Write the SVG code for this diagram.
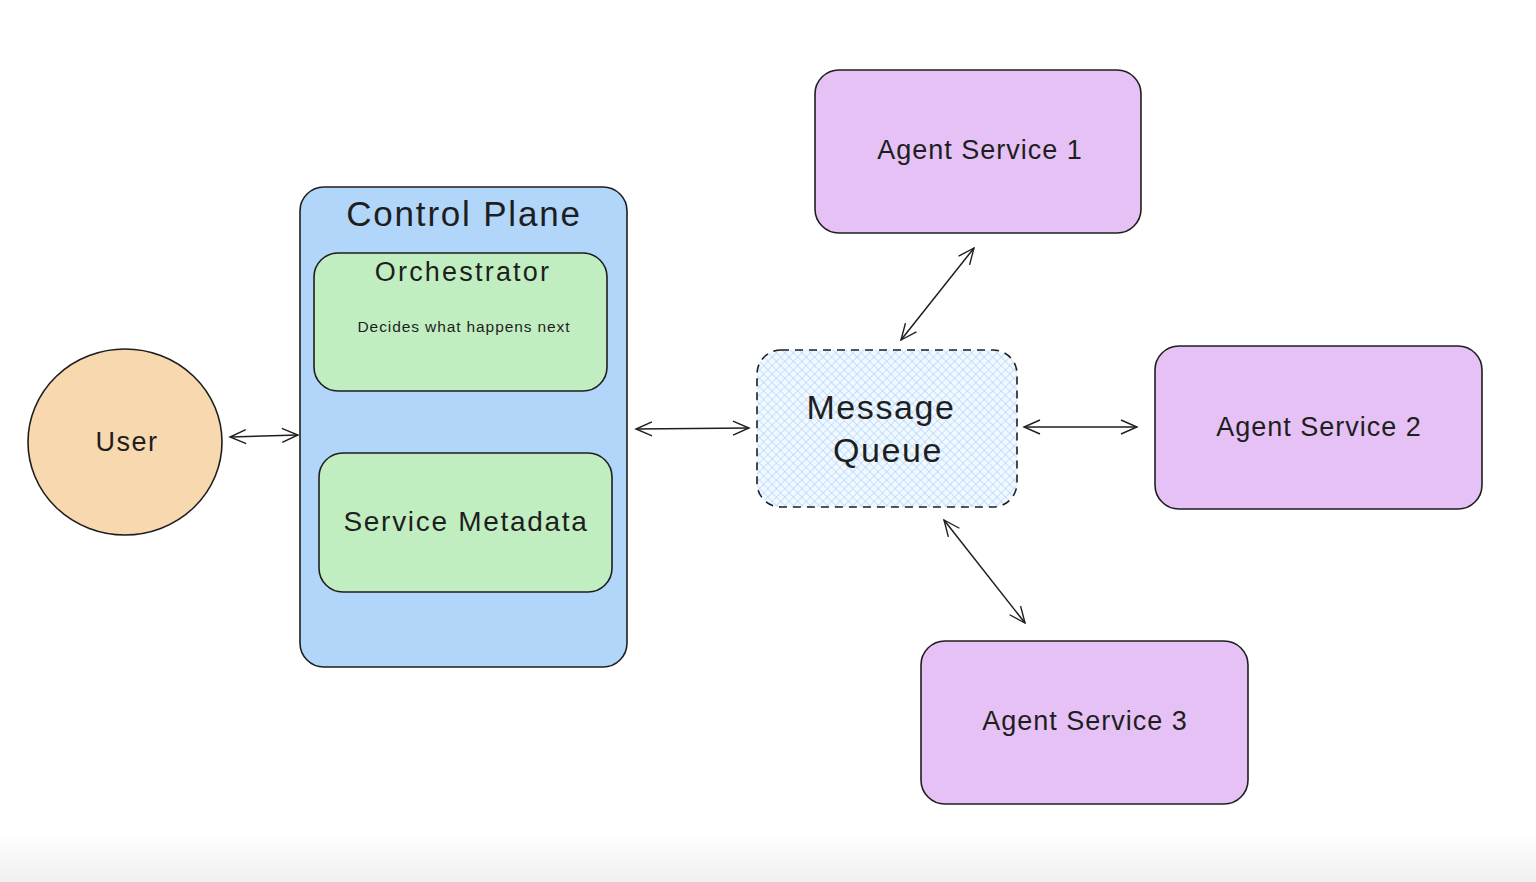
<svg xmlns="http://www.w3.org/2000/svg" width="1536" height="882" viewBox="0 0 1536 882">
<style>
.t{font-family:"Liberation Sans",Arial,sans-serif;fill:#1e1e1e;text-anchor:middle;dominant-baseline:central}
.box{stroke:#1e1e1e;stroke-width:1.6}
.agent{fill:#e6c1f5}
.green{fill:#c1eec1}
.conn line{stroke:#1e1e1e;stroke-width:1.5;fill:none;marker-start:url(#ah);marker-end:url(#ah)}
</style>
<defs>
<linearGradient id="bg" x1="0" y1="0" x2="0" y2="1">
<stop offset="0" stop-color="#ffffff"/>
<stop offset="1" stop-color="#f0f0f0"/>
</linearGradient>
<pattern id="hatch" width="6" height="6" patternUnits="userSpaceOnUse" patternTransform="rotate(45)">
<rect width="6" height="6" fill="#f2f8ff"/>
<line x1="0" y1="0" x2="0" y2="6" stroke="#a9d3fb" stroke-width="1.2"/>
<line x1="0" y1="0" x2="6" y2="0" stroke="#a9d3fb" stroke-width="1.2"/>
</pattern>
<marker id="ah" viewBox="0 0 20 20" refX="18" refY="10" markerWidth="20" markerHeight="20" markerUnits="userSpaceOnUse" orient="auto-start-reverse">
<path d="M2,3 L18,10 L2,17" fill="none" stroke="#1e1e1e" stroke-width="1.4"/>
</marker>
</defs>
<rect width="1536" height="882" fill="#ffffff"/>
<rect x="0" y="835" width="1536" height="47" fill="url(#bg)"/>

<g id="control-plane">
<rect class="box" x="300" y="187" width="327" height="480" rx="24" fill="#b1d6fa"/>
<text class="t" x="464" y="213" font-size="35" letter-spacing="1.8">Control Plane</text>
</g>
<g id="orchestrator">
<rect class="box green" x="314" y="253" width="293" height="138" rx="24"/>
<text class="t" x="463" y="272" font-size="27" letter-spacing="2.2">Orchestrator</text>
<text class="t" x="464" y="326" font-size="15.5" letter-spacing="0.9">Decides what happens next</text>
</g>
<g id="service-metadata">
<rect class="box green" x="319" y="453" width="293" height="139" rx="24"/>
<text class="t" x="466" y="521" font-size="28" letter-spacing="1.7">Service Metadata</text>
</g>
<g id="user">
<ellipse class="box" cx="125" cy="442" rx="97" ry="93" fill="#f8d8ae"/>
<text class="t" x="127" y="442" font-size="27" letter-spacing="1.5">User</text>
</g>
<g id="message-queue">
<rect x="757" y="350" width="260" height="157" rx="24" fill="url(#hatch)" stroke="#1e1e1e" stroke-width="1.6" stroke-dasharray="8 6"/>
<text class="t" x="881" y="407" font-size="34" letter-spacing="1.6">Message</text>
<text class="t" x="888" y="450" font-size="34" letter-spacing="1.6">Queue</text>
</g>
<g id="agent-service-1">
<rect class="box agent" x="815" y="70" width="326" height="163" rx="24"/>
<text class="t" x="980" y="150" font-size="27" letter-spacing="1">Agent Service 1</text>
</g>
<g id="agent-service-2">
<rect class="box agent" x="1155" y="346" width="327" height="163" rx="24"/>
<text class="t" x="1319" y="427" font-size="27" letter-spacing="1">Agent Service 2</text>
</g>
<g id="agent-service-3">
<rect class="box agent" x="921" y="641" width="327" height="163" rx="24"/>
<text class="t" x="1085" y="721" font-size="27" letter-spacing="1">Agent Service 3</text>
</g>

<g id="connectors" class="conn">
<line x1="230" y1="437" x2="298" y2="435"/>
<line x1="636" y1="429" x2="749" y2="428"/>
<line x1="1024" y1="427" x2="1137" y2="427"/>
<line x1="901" y1="340" x2="974" y2="248"/>
<line x1="944" y1="520" x2="1025" y2="623"/>
</g>
</svg>
